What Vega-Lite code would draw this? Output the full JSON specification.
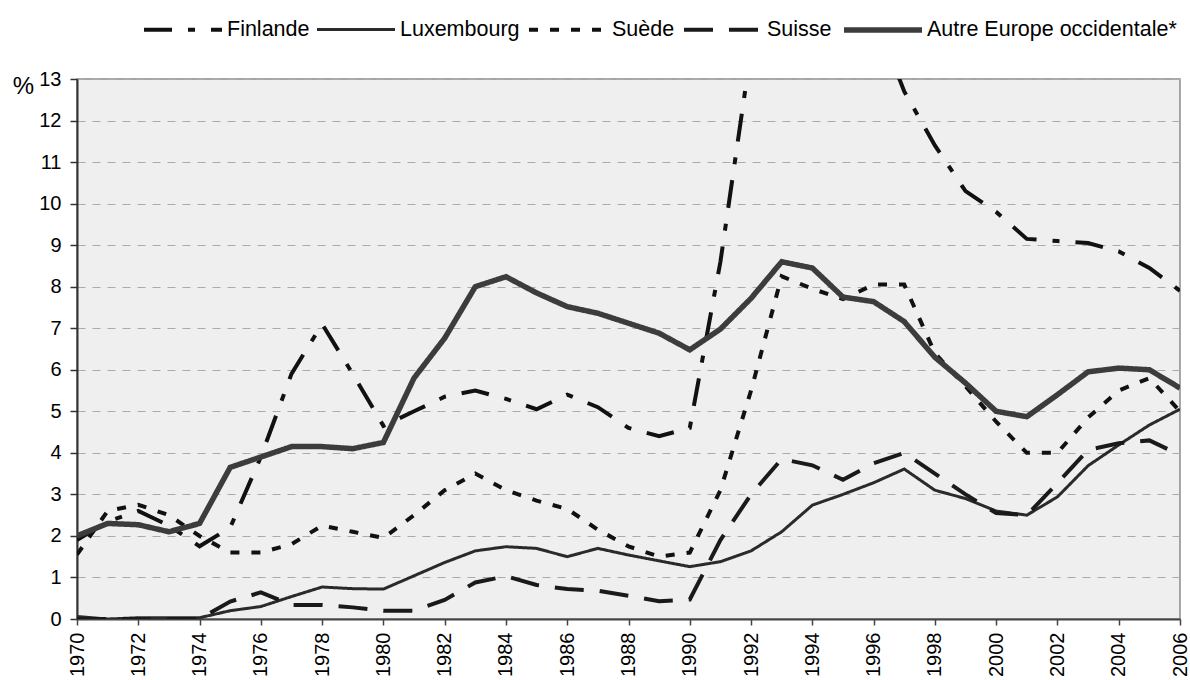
{
  "$schema": "https://vega.github.io/schema/vega-lite/v6.json",
  "autosize": {"type": "none"},
  "padding": {"left": 77, "top": 79, "right": 10, "bottom": 61},
  "width": 1103,
  "height": 540,
  "background": "white",
  "config": {
    "view": {"fill": "#efefef", "stroke": "#8c8c8c", "strokeWidth": 1.5},
    "font": "Liberation Sans"
  },
  "data": {
    "values": [
      {"annee":1970,"pays":"Finlande","valeur":1.9},{"annee":1971,"pays":"Finlande","valeur":2.35},{"annee":1972,"pays":"Finlande","valeur":2.6},{"annee":1973,"pays":"Finlande","valeur":2.25},{"annee":1974,"pays":"Finlande","valeur":1.75},{"annee":1975,"pays":"Finlande","valeur":2.2},{"annee":1976,"pays":"Finlande","valeur":3.9},{"annee":1977,"pays":"Finlande","valeur":5.9},{"annee":1978,"pays":"Finlande","valeur":7.1},{"annee":1979,"pays":"Finlande","valeur":5.9},{"annee":1980,"pays":"Finlande","valeur":4.65},{"annee":1981,"pays":"Finlande","valeur":5.0},{"annee":1982,"pays":"Finlande","valeur":5.35},{"annee":1983,"pays":"Finlande","valeur":5.5},{"annee":1984,"pays":"Finlande","valeur":5.3},{"annee":1985,"pays":"Finlande","valeur":5.05},{"annee":1986,"pays":"Finlande","valeur":5.4},{"annee":1987,"pays":"Finlande","valeur":5.1},{"annee":1988,"pays":"Finlande","valeur":4.6},{"annee":1989,"pays":"Finlande","valeur":4.4},{"annee":1990,"pays":"Finlande","valeur":4.6},{"annee":1991,"pays":"Finlande","valeur":8.6},{"annee":1992,"pays":"Finlande","valeur":13.7},{"annee":1993,"pays":"Finlande","valeur":16.3},{"annee":1994,"pays":"Finlande","valeur":16.6},{"annee":1995,"pays":"Finlande","valeur":15.4},{"annee":1996,"pays":"Finlande","valeur":14.6},{"annee":1997,"pays":"Finlande","valeur":12.7},{"annee":1998,"pays":"Finlande","valeur":11.4},{"annee":1999,"pays":"Finlande","valeur":10.3},{"annee":2000,"pays":"Finlande","valeur":9.8},{"annee":2001,"pays":"Finlande","valeur":9.15},{"annee":2002,"pays":"Finlande","valeur":9.1},{"annee":2003,"pays":"Finlande","valeur":9.05},{"annee":2004,"pays":"Finlande","valeur":8.85},{"annee":2005,"pays":"Finlande","valeur":8.45},{"annee":2006,"pays":"Finlande","valeur":7.9},
      {"annee":1970,"pays":"Luxembourg","valeur":0.06},{"annee":1971,"pays":"Luxembourg","valeur":0.0},{"annee":1972,"pays":"Luxembourg","valeur":0.03},{"annee":1973,"pays":"Luxembourg","valeur":0.03},{"annee":1974,"pays":"Luxembourg","valeur":0.03},{"annee":1975,"pays":"Luxembourg","valeur":0.2},{"annee":1976,"pays":"Luxembourg","valeur":0.3},{"annee":1977,"pays":"Luxembourg","valeur":0.54},{"annee":1978,"pays":"Luxembourg","valeur":0.77},{"annee":1979,"pays":"Luxembourg","valeur":0.73},{"annee":1980,"pays":"Luxembourg","valeur":0.72},{"annee":1981,"pays":"Luxembourg","valeur":1.04},{"annee":1982,"pays":"Luxembourg","valeur":1.36},{"annee":1983,"pays":"Luxembourg","valeur":1.64},{"annee":1984,"pays":"Luxembourg","valeur":1.74},{"annee":1985,"pays":"Luxembourg","valeur":1.7},{"annee":1986,"pays":"Luxembourg","valeur":1.5},{"annee":1987,"pays":"Luxembourg","valeur":1.7},{"annee":1988,"pays":"Luxembourg","valeur":1.54},{"annee":1989,"pays":"Luxembourg","valeur":1.4},{"annee":1990,"pays":"Luxembourg","valeur":1.26},{"annee":1991,"pays":"Luxembourg","valeur":1.38},{"annee":1992,"pays":"Luxembourg","valeur":1.64},{"annee":1993,"pays":"Luxembourg","valeur":2.1},{"annee":1994,"pays":"Luxembourg","valeur":2.74},{"annee":1995,"pays":"Luxembourg","valeur":3.0},{"annee":1996,"pays":"Luxembourg","valeur":3.28},{"annee":1997,"pays":"Luxembourg","valeur":3.61},{"annee":1998,"pays":"Luxembourg","valeur":3.1},{"annee":1999,"pays":"Luxembourg","valeur":2.9},{"annee":2000,"pays":"Luxembourg","valeur":2.6},{"annee":2001,"pays":"Luxembourg","valeur":2.5},{"annee":2002,"pays":"Luxembourg","valeur":2.94},{"annee":2003,"pays":"Luxembourg","valeur":3.69},{"annee":2004,"pays":"Luxembourg","valeur":4.19},{"annee":2005,"pays":"Luxembourg","valeur":4.67},{"annee":2006,"pays":"Luxembourg","valeur":5.05},
      {"annee":1970,"pays":"Suède","valeur":1.55},{"annee":1971,"pays":"Suède","valeur":2.6},{"annee":1972,"pays":"Suède","valeur":2.75},{"annee":1973,"pays":"Suède","valeur":2.5},{"annee":1974,"pays":"Suède","valeur":2.0},{"annee":1975,"pays":"Suède","valeur":1.6},{"annee":1976,"pays":"Suède","valeur":1.6},{"annee":1977,"pays":"Suède","valeur":1.8},{"annee":1978,"pays":"Suède","valeur":2.25},{"annee":1979,"pays":"Suède","valeur":2.1},{"annee":1980,"pays":"Suède","valeur":1.95},{"annee":1981,"pays":"Suède","valeur":2.5},{"annee":1982,"pays":"Suède","valeur":3.1},{"annee":1983,"pays":"Suède","valeur":3.5},{"annee":1984,"pays":"Suède","valeur":3.1},{"annee":1985,"pays":"Suède","valeur":2.85},{"annee":1986,"pays":"Suède","valeur":2.65},{"annee":1987,"pays":"Suède","valeur":2.15},{"annee":1988,"pays":"Suède","valeur":1.75},{"annee":1989,"pays":"Suède","valeur":1.5},{"annee":1990,"pays":"Suède","valeur":1.6},{"annee":1991,"pays":"Suède","valeur":3.1},{"annee":1992,"pays":"Suède","valeur":5.5},{"annee":1993,"pays":"Suède","valeur":8.25},{"annee":1994,"pays":"Suède","valeur":7.95},{"annee":1995,"pays":"Suède","valeur":7.7},{"annee":1996,"pays":"Suède","valeur":8.05},{"annee":1997,"pays":"Suède","valeur":8.05},{"annee":1998,"pays":"Suède","valeur":6.4},{"annee":1999,"pays":"Suède","valeur":5.6},{"annee":2000,"pays":"Suède","valeur":4.75},{"annee":2001,"pays":"Suède","valeur":4.0},{"annee":2002,"pays":"Suède","valeur":4.0},{"annee":2003,"pays":"Suède","valeur":4.85},{"annee":2004,"pays":"Suède","valeur":5.5},{"annee":2005,"pays":"Suède","valeur":5.8},{"annee":2006,"pays":"Suède","valeur":5.0},
      {"annee":1970,"pays":"Suisse","valeur":0.0},{"annee":1971,"pays":"Suisse","valeur":0.0},{"annee":1972,"pays":"Suisse","valeur":0.0},{"annee":1973,"pays":"Suisse","valeur":0.0},{"annee":1974,"pays":"Suisse","valeur":0.0},{"annee":1975,"pays":"Suisse","valeur":0.42},{"annee":1976,"pays":"Suisse","valeur":0.64},{"annee":1977,"pays":"Suisse","valeur":0.34},{"annee":1978,"pays":"Suisse","valeur":0.34},{"annee":1979,"pays":"Suisse","valeur":0.28},{"annee":1980,"pays":"Suisse","valeur":0.2},{"annee":1981,"pays":"Suisse","valeur":0.2},{"annee":1982,"pays":"Suisse","valeur":0.46},{"annee":1983,"pays":"Suisse","valeur":0.88},{"annee":1984,"pays":"Suisse","valeur":1.03},{"annee":1985,"pays":"Suisse","valeur":0.82},{"annee":1986,"pays":"Suisse","valeur":0.72},{"annee":1987,"pays":"Suisse","valeur":0.68},{"annee":1988,"pays":"Suisse","valeur":0.56},{"annee":1989,"pays":"Suisse","valeur":0.43},{"annee":1990,"pays":"Suisse","valeur":0.47},{"annee":1991,"pays":"Suisse","valeur":1.9},{"annee":1992,"pays":"Suisse","valeur":3.0},{"annee":1993,"pays":"Suisse","valeur":3.85},{"annee":1994,"pays":"Suisse","valeur":3.7},{"annee":1995,"pays":"Suisse","valeur":3.35},{"annee":1996,"pays":"Suisse","valeur":3.75},{"annee":1997,"pays":"Suisse","valeur":4.0},{"annee":1998,"pays":"Suisse","valeur":3.5},{"annee":1999,"pays":"Suisse","valeur":3.0},{"annee":2000,"pays":"Suisse","valeur":2.55},{"annee":2001,"pays":"Suisse","valeur":2.5},{"annee":2002,"pays":"Suisse","valeur":3.27},{"annee":2003,"pays":"Suisse","valeur":4.07},{"annee":2004,"pays":"Suisse","valeur":4.23},{"annee":2005,"pays":"Suisse","valeur":4.3},{"annee":2006,"pays":"Suisse","valeur":3.95},
      {"annee":1970,"pays":"Autre Europe occidentale*","valeur":2.0},{"annee":1971,"pays":"Autre Europe occidentale*","valeur":2.3},{"annee":1972,"pays":"Autre Europe occidentale*","valeur":2.27},{"annee":1973,"pays":"Autre Europe occidentale*","valeur":2.1},{"annee":1974,"pays":"Autre Europe occidentale*","valeur":2.3},{"annee":1975,"pays":"Autre Europe occidentale*","valeur":3.65},{"annee":1976,"pays":"Autre Europe occidentale*","valeur":3.9},{"annee":1977,"pays":"Autre Europe occidentale*","valeur":4.15},{"annee":1978,"pays":"Autre Europe occidentale*","valeur":4.15},{"annee":1979,"pays":"Autre Europe occidentale*","valeur":4.1},{"annee":1980,"pays":"Autre Europe occidentale*","valeur":4.25},{"annee":1981,"pays":"Autre Europe occidentale*","valeur":5.8},{"annee":1982,"pays":"Autre Europe occidentale*","valeur":6.76},{"annee":1983,"pays":"Autre Europe occidentale*","valeur":8.0},{"annee":1984,"pays":"Autre Europe occidentale*","valeur":8.24},{"annee":1985,"pays":"Autre Europe occidentale*","valeur":7.85},{"annee":1986,"pays":"Autre Europe occidentale*","valeur":7.52},{"annee":1987,"pays":"Autre Europe occidentale*","valeur":7.36},{"annee":1988,"pays":"Autre Europe occidentale*","valeur":7.12},{"annee":1989,"pays":"Autre Europe occidentale*","valeur":6.88},{"annee":1990,"pays":"Autre Europe occidentale*","valeur":6.48},{"annee":1991,"pays":"Autre Europe occidentale*","valeur":6.98},{"annee":1992,"pays":"Autre Europe occidentale*","valeur":7.72},{"annee":1993,"pays":"Autre Europe occidentale*","valeur":8.6},{"annee":1994,"pays":"Autre Europe occidentale*","valeur":8.45},{"annee":1995,"pays":"Autre Europe occidentale*","valeur":7.75},{"annee":1996,"pays":"Autre Europe occidentale*","valeur":7.64},{"annee":1997,"pays":"Autre Europe occidentale*","valeur":7.16},{"annee":1998,"pays":"Autre Europe occidentale*","valeur":6.3},{"annee":1999,"pays":"Autre Europe occidentale*","valeur":5.68},{"annee":2000,"pays":"Autre Europe occidentale*","valeur":5.0},{"annee":2001,"pays":"Autre Europe occidentale*","valeur":4.87},{"annee":2002,"pays":"Autre Europe occidentale*","valeur":5.4},{"annee":2003,"pays":"Autre Europe occidentale*","valeur":5.95},{"annee":2004,"pays":"Autre Europe occidentale*","valeur":6.04},{"annee":2005,"pays":"Autre Europe occidentale*","valeur":6.0},{"annee":2006,"pays":"Autre Europe occidentale*","valeur":5.56}
    ]
  },
  "mark": {"type": "line", "clip": true, "strokeCap": "butt", "strokeJoin": "miter"},
  "encoding": {
    "x": {
      "field": "annee", "type": "quantitative",
      "scale": {"domain": [1970, 2006], "nice": false, "zero": false},
      "axis": {
        "values": [1970,1972,1974,1976,1978,1980,1982,1984,1986,1988,1990,1992,1994,1996,1998,2000,2002,2004,2006],
        "format": "d", "title": null, "grid": false,
        "labelAngle": 270, "labelFontSize": 20, "labelFont": "Liberation Sans", "labelColor": "#000",
        "labelPadding": 7, "labelFlush": false, "labelOverlap": false,
        "domainColor": "#444", "domainWidth": 2, "tickColor": "#444", "tickWidth": 1.5, "tickSize": 6
      }
    },
    "y": {
      "field": "valeur", "type": "quantitative",
      "scale": {"domain": [0, 13], "nice": false},
      "axis": {
        "values": [0,1,2,3,4,5,6,7,8,9,10,11,12,13],
        "title": "%", "titleAngle": 0, "titleX": -54, "titleY": 7, "titleAlign": "center", "titleBaseline": "middle",
        "titleFontSize": 24, "titleFontWeight": "normal", "titleFont": "Liberation Sans", "titleColor": "#000",
        "labelFontSize": 20, "labelFont": "Liberation Sans", "labelColor": "#000", "labelPadding": 9,
        "domainColor": "#333", "domainWidth": 2, "tickColor": "#333", "tickWidth": 1.5, "tickSize": 7,
        "grid": true, "gridColor": "#ababab", "gridDash": [8, 7], "gridWidth": 1
      }
    },
    "color": {
      "field": "pays", "type": "nominal",
      "scale": {"domain": ["Finlande","Luxembourg","Suède","Suisse","Autre Europe occidentale*"], "range": ["#111111","#2a2a2a","#111111","#1a1a1a","#3c3c3c"]},
      "legend": {"title": null, "orient": "none", "legendX": 64, "legendY": -91, "direction": "horizontal", "columns": 5,
        "symbolType": "stroke", "symbolSize": 6084, "labelFontSize": 21.5, "labelFont": "Liberation Sans", "labelColor": "#000",
        "labelOffset": 2, "columnPadding": 1, "labelLimit": 400}
    },
    "strokeDash": {
      "field": "pays", "type": "nominal",
      "scale": {"domain": ["Finlande","Luxembourg","Suède","Suisse","Autre Europe occidentale*"], "range": [[28,16,7,16],[1,0],[9,12],[29,16],[1,0]]},
      "legend": {"title": null, "orient": "none", "legendX": 64, "legendY": -91, "direction": "horizontal", "columns": 5,
        "symbolType": "stroke", "symbolSize": 6084, "labelFontSize": 21.5, "labelFont": "Liberation Sans", "labelColor": "#000",
        "labelOffset": 2, "columnPadding": 1, "labelLimit": 400}
    },
    "strokeWidth": {
      "field": "pays", "type": "nominal",
      "scale": {"type": "ordinal", "domain": ["Finlande","Luxembourg","Suède","Suisse","Autre Europe occidentale*"], "range": [4, 3, 4, 4, 5.5]},
      "legend": {"title": null, "orient": "none", "legendX": 64, "legendY": -91, "direction": "horizontal", "columns": 5,
        "symbolType": "stroke", "symbolSize": 6084, "labelFontSize": 21.5, "labelFont": "Liberation Sans", "labelColor": "#000",
        "labelOffset": 2, "columnPadding": 1, "labelLimit": 400}
    }
  }
}
